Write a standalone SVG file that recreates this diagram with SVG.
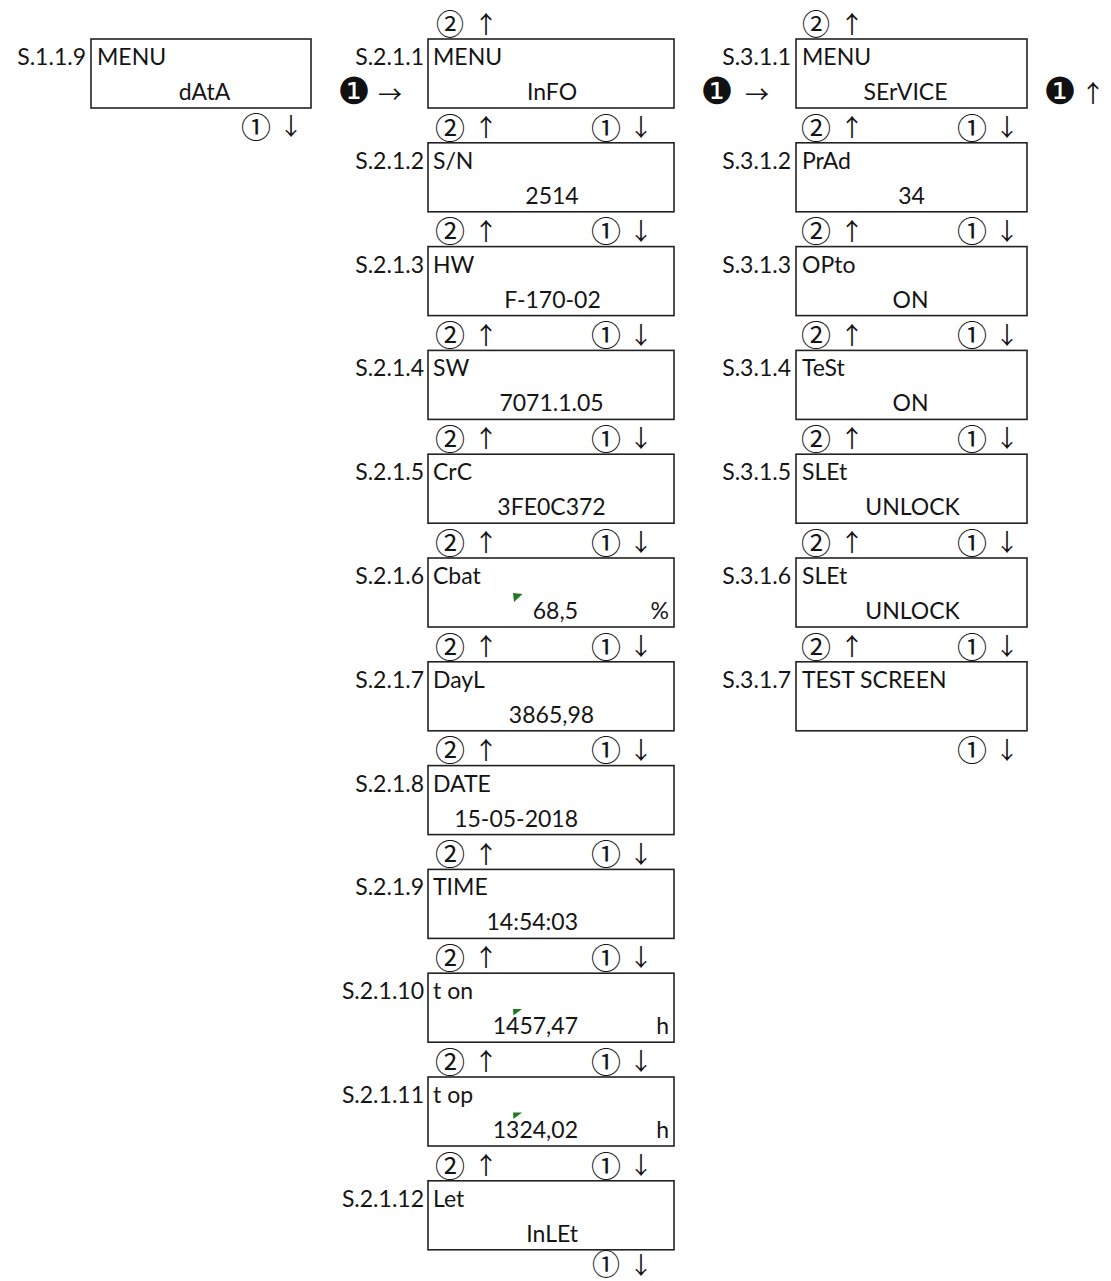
<svg xmlns="http://www.w3.org/2000/svg" width="1111" height="1281" viewBox="0 0 1111 1281">
<style>
.bg{fill:#ffffff}
.box{fill:#ffffff;stroke:#222222;stroke-width:1.6}
.t{font-family:Lato,"Liberation Sans",sans-serif;font-size:23px;fill:#151515}
.lbl{font-family:Lato,"Liberation Sans",sans-serif;font-size:23px;fill:#151515;text-anchor:end}
.mid{text-anchor:middle}
.end{text-anchor:end}
.c{font-family:"Noto Sans CJK JP","DejaVu Sans",sans-serif;font-size:30px;fill:#151515;text-anchor:middle;dominant-baseline:central}
.ct{font-size:28px}
.k{font-family:"DejaVu Sans","Noto Sans CJK JP",sans-serif;font-size:37px;fill:#111111;text-anchor:middle;dominant-baseline:central}
.a{font-family:"Noto Sans CJK JP","DejaVu Sans",sans-serif;font-size:24px;fill:#151515;text-anchor:middle;dominant-baseline:central}
.mk{fill:#1f7a1f}
</style>
<rect class="bg" x="0" y="0" width="1111" height="1281"/>

<!-- Column 1 -->
<g id="S119">
<rect class="box" x="91" y="39" width="220" height="69"/>
<text class="lbl" x="86" y="65">S.1.1.9</text>
<text class="t" x="97" y="65">MENU</text>
<text class="t mid" x="204.5" y="100">dAtA</text>
</g>

<!-- Column 2 -->
<g id="S211"><rect class="box" x="428" y="39" width="246" height="69"/><text class="lbl" x="424" y="65">S.2.1.1</text><text class="t" x="433" y="65">MENU</text><text class="t mid" x="552" y="100">InFO</text></g>
<g id="S212"><rect class="box" x="428" y="142.8" width="246" height="69"/><text class="lbl" x="424" y="168.8">S.2.1.2</text><text class="t" x="433" y="168.8">S/N</text><text class="t mid" x="552" y="203.8">2514</text></g>
<g id="S213"><rect class="box" x="428" y="246.6" width="246" height="69"/><text class="lbl" x="424" y="272.6">S.2.1.3</text><text class="t" x="433" y="272.6">HW</text><text class="t mid" x="552.5" y="307.6">F-170-02</text></g>
<g id="S214"><rect class="box" x="428" y="350.4" width="246" height="69"/><text class="lbl" x="424" y="376.4">S.2.1.4</text><text class="t" x="433" y="376.4">SW</text><text class="t mid" x="551.5" y="411.4">7071.1.05</text></g>
<g id="S215"><rect class="box" x="428" y="454.2" width="246" height="69"/><text class="lbl" x="424" y="480.2">S.2.1.5</text><text class="t" x="433" y="480.2">CrC</text><text class="t mid" x="551.5" y="515.2">3FE0C372</text></g>
<g id="S216"><rect class="box" x="428" y="558" width="246" height="69"/><text class="lbl" x="424" y="584">S.2.1.6</text><text class="t" x="433" y="584">Cbat</text><polygon class="mk" points="513,593 522.5,594 514,602"/><text class="t end" x="578" y="619">68,5</text><text class="t end" x="669" y="619">%</text></g>
<g id="S217"><rect class="box" x="428" y="661.8" width="246" height="69"/><text class="lbl" x="424" y="687.8">S.2.1.7</text><text class="t" x="433" y="687.8">DayL</text><text class="t mid" x="551.5" y="722.8">3865,98</text></g>
<g id="S218"><rect class="box" x="428" y="765.6" width="246" height="69"/><text class="lbl" x="424" y="791.6">S.2.1.8</text><text class="t" x="433" y="791.6">DATE</text><text class="t end" x="578" y="826.6">15-05-2018</text></g>
<g id="S219"><rect class="box" x="428" y="869.4" width="246" height="69"/><text class="lbl" x="424" y="895.4">S.2.1.9</text><text class="t" x="433" y="895.4">TIME</text><text class="t end" x="578" y="930.4">14:54:03</text></g>
<g id="S2110"><rect class="box" x="428" y="973.2" width="246" height="69"/><text class="lbl" x="424" y="999.2">S.2.1.10</text><text class="t" x="433" y="999.2">t on</text><polygon class="mk" points="513,1009 522,1009 513.5,1015.5"/><text class="t end" x="578" y="1034.2">1457,47</text><text class="t end" x="669" y="1034.2">h</text></g>
<g id="S2111"><rect class="box" x="428" y="1077" width="246" height="69"/><text class="lbl" x="424" y="1103">S.2.1.11</text><text class="t" x="433" y="1103">t op</text><polygon class="mk" points="513,1112.5 522,1112.5 513.5,1119"/><text class="t end" x="578" y="1138">1324,02</text><text class="t end" x="669" y="1138">h</text></g>
<g id="S2112"><rect class="box" x="428" y="1180.8" width="246" height="69"/><text class="lbl" x="424" y="1206.8">S.2.1.12</text><text class="t" x="433" y="1206.8">Let</text><text class="t end" x="578" y="1241.8">InLEt</text></g>

<!-- Column 3 -->
<g id="S311"><rect class="box" x="796" y="39" width="231" height="69"/><text class="lbl" x="791" y="65">S.3.1.1</text><text class="t" x="802" y="65">MENU</text><text class="t mid" x="905.5" y="100">SErVICE</text></g>
<g id="S312"><rect class="box" x="796" y="142.8" width="231" height="69"/><text class="lbl" x="791" y="168.8">S.3.1.2</text><text class="t" x="802" y="168.8">PrAd</text><text class="t mid" x="911.5" y="203.8">34</text></g>
<g id="S313"><rect class="box" x="796" y="246.6" width="231" height="69"/><text class="lbl" x="791" y="272.6">S.3.1.3</text><text class="t" x="802" y="272.6">OPto</text><text class="t mid" x="910.5" y="307.6">ON</text></g>
<g id="S314"><rect class="box" x="796" y="350.4" width="231" height="69"/><text class="lbl" x="791" y="376.4">S.3.1.4</text><text class="t" x="802" y="376.4">TeSt</text><text class="t mid" x="910.5" y="411.4">ON</text></g>
<g id="S315"><rect class="box" x="796" y="454.2" width="231" height="69"/><text class="lbl" x="791" y="480.2">S.3.1.5</text><text class="t" x="802" y="480.2">SLEt</text><text class="t mid" x="912.5" y="515.2">UNLOCK</text></g>
<g id="S316"><rect class="box" x="796" y="558" width="231" height="69"/><text class="lbl" x="791" y="584">S.3.1.6</text><text class="t" x="802" y="584">SLEt</text><text class="t mid" x="912.5" y="619">UNLOCK</text></g>
<g id="S317"><rect class="box" x="796" y="661.8" width="231" height="69"/><text class="lbl" x="791" y="687.8">S.3.1.7</text><text class="t" x="802" y="687.8">TEST SCREEN</text></g>

<!-- Connectors: navigation keys -->
<g id="connectors">
<!-- column 1 -->
<text class="c" x="256" y="124.5">①</text><text class="a" x="291" y="124.5">↓</text>
<!-- column 2 entry -->
<text class="k" x="354" y="91">❶</text><text class="a" x="390" y="92">→</text>
<text class="c ct" x="450" y="22.5">②</text><text class="a" x="486" y="22.5">↑</text>
<g id="c2">
<text class="c" x="450" y="125.5">②</text><text class="a" x="486" y="125.5">↑</text><text class="c" x="606" y="125.5">①</text><text class="a" x="641" y="125.5">↓</text>
<text class="c" x="450" y="229.3">②</text><text class="a" x="486" y="229.3">↑</text><text class="c" x="606" y="229.3">①</text><text class="a" x="641" y="229.3">↓</text>
<text class="c" x="450" y="333.1">②</text><text class="a" x="486" y="333.1">↑</text><text class="c" x="606" y="333.1">①</text><text class="a" x="641" y="333.1">↓</text>
<text class="c" x="450" y="436.9">②</text><text class="a" x="486" y="436.9">↑</text><text class="c" x="606" y="436.9">①</text><text class="a" x="641" y="436.9">↓</text>
<text class="c" x="450" y="540.7">②</text><text class="a" x="486" y="540.7">↑</text><text class="c" x="606" y="540.7">①</text><text class="a" x="641" y="540.7">↓</text>
<text class="c" x="450" y="644.5">②</text><text class="a" x="486" y="644.5">↑</text><text class="c" x="606" y="644.5">①</text><text class="a" x="641" y="644.5">↓</text>
<text class="c" x="450" y="748.3">②</text><text class="a" x="486" y="748.3">↑</text><text class="c" x="606" y="748.3">①</text><text class="a" x="641" y="748.3">↓</text>
<text class="c" x="450" y="852.1">②</text><text class="a" x="486" y="852.1">↑</text><text class="c" x="606" y="852.1">①</text><text class="a" x="641" y="852.1">↓</text>
<text class="c" x="450" y="955.9">②</text><text class="a" x="486" y="955.9">↑</text><text class="c" x="606" y="955.9">①</text><text class="a" x="641" y="955.9">↓</text>
<text class="c" x="450" y="1059.7">②</text><text class="a" x="486" y="1059.7">↑</text><text class="c" x="606" y="1059.7">①</text><text class="a" x="641" y="1059.7">↓</text>
<text class="c" x="450" y="1163.5">②</text><text class="a" x="486" y="1163.5">↑</text><text class="c" x="606" y="1163.5">①</text><text class="a" x="641" y="1163.5">↓</text>
<text class="c ct" x="606" y="1263">①</text><text class="a" x="641" y="1263">↓</text>
</g>
<!-- column 3 -->
<text class="k" x="717" y="91">❶</text><text class="a" x="757" y="92">→</text>
<text class="k" x="1060" y="91">❶</text><text class="a" x="1093" y="91">↑</text>
<text class="c ct" x="816" y="22.5">②</text><text class="a" x="852" y="22.5">↑</text>
<g id="c3">
<text class="c" x="816" y="125.5">②</text><text class="a" x="852" y="125.5">↑</text><text class="c" x="972" y="125.5">①</text><text class="a" x="1007" y="125.5">↓</text>
<text class="c" x="816" y="229.3">②</text><text class="a" x="852" y="229.3">↑</text><text class="c" x="972" y="229.3">①</text><text class="a" x="1007" y="229.3">↓</text>
<text class="c" x="816" y="333.1">②</text><text class="a" x="852" y="333.1">↑</text><text class="c" x="972" y="333.1">①</text><text class="a" x="1007" y="333.1">↓</text>
<text class="c" x="816" y="436.9">②</text><text class="a" x="852" y="436.9">↑</text><text class="c" x="972" y="436.9">①</text><text class="a" x="1007" y="436.9">↓</text>
<text class="c" x="816" y="540.7">②</text><text class="a" x="852" y="540.7">↑</text><text class="c" x="972" y="540.7">①</text><text class="a" x="1007" y="540.7">↓</text>
<text class="c" x="816" y="644.5">②</text><text class="a" x="852" y="644.5">↑</text><text class="c" x="972" y="644.5">①</text><text class="a" x="1007" y="644.5">↓</text>
<text class="c" x="972" y="748.3">①</text><text class="a" x="1007" y="748.3">↓</text>
</g>
</g>
</svg>
